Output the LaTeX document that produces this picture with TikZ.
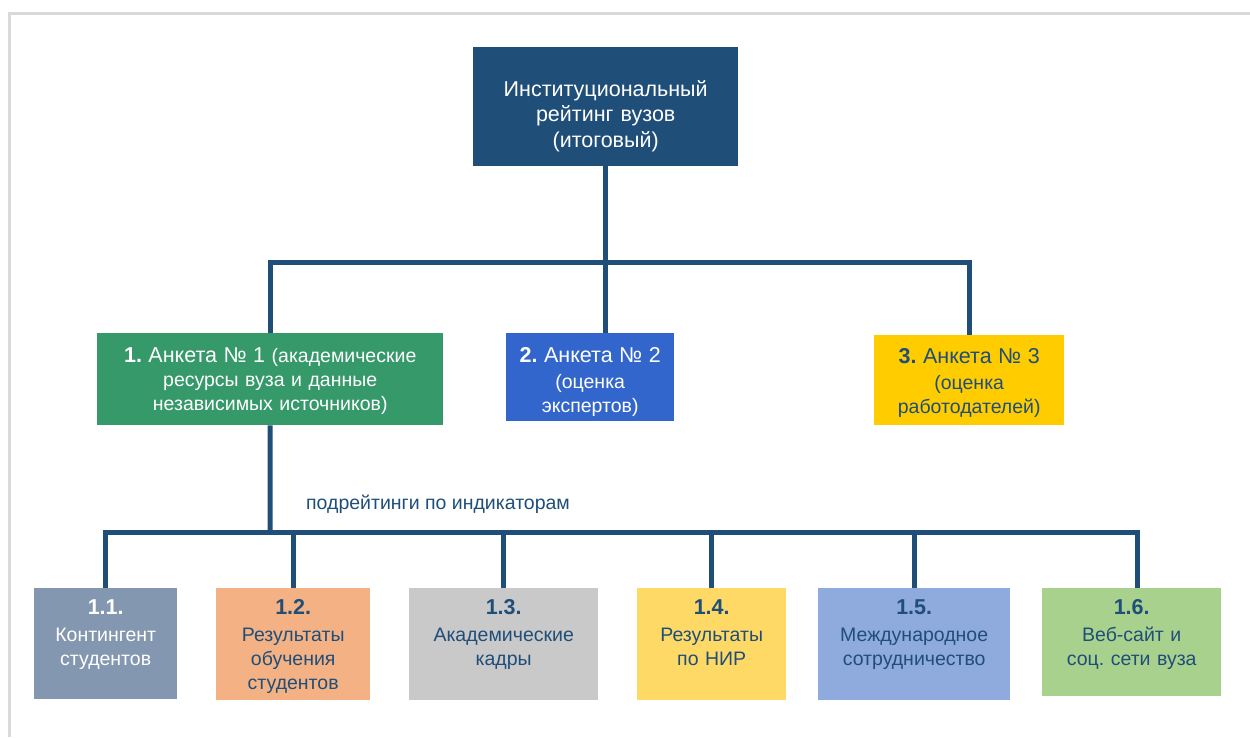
\documentclass[tikz,border=0pt]{standalone}
\usepackage{fontspec}
\setmainfont{Liberation Sans}
\frenchspacing
\definecolor{navy}{HTML}{1F4E79}
\definecolor{lineblue}{HTML}{1F4E79}
\definecolor{cTop}{HTML}{1F4E79}
\definecolor{cOne}{HTML}{35996A}
\definecolor{cTwo}{HTML}{3366CC}
\definecolor{cThree}{HTML}{FFCC00}
\definecolor{cA}{HTML}{8497B0}
\definecolor{cB}{HTML}{F4B183}
\definecolor{cC}{HTML}{C9C9C9}
\definecolor{cD}{HTML}{FFD966}
\definecolor{cE}{HTML}{8FAADC}
\definecolor{cF}{HTML}{A9D18E}
\definecolor{frame}{HTML}{D9D9D9}
\newcommand{\bigtxt}[1]{{\fontsize{21.5}{24}\selectfont #1}}
\newcommand{\nrm}{\fontsize{19.5}{24}\selectfont}
\begin{document}
\begin{tikzpicture}[x=1pt,y=-1pt,
  box/.style={inner sep=0pt, anchor=north west, align=center, font=\nrm},
  leaf/.style={box, text height=26.5pt, text depth=85.5pt},
  conn/.style={draw=lineblue, line width=5pt},
  lbl/.style={inner sep=0pt, text=navy, font=\fontsize{19.5}{22}\selectfont}]
\useasboundingbox (0,0) rectangle (1250,737);
\draw[frame, line width=3pt] (9.5,737) -- (9.5,13.5) -- (1250,13.5);

\node[box, fill=cTop, text=white, text width=265pt, text height=49pt, text depth=70pt, font=\fontsize{21.5}{25.5}\selectfont] (top) at (473,47)
  {Институциональный\\рейтинг вузов\\(итоговый)};

\node[box, fill=cOne, text=white, text width=346pt, text height=29.5pt, text depth=62.5pt] (b1) at (97,333)
  {\bigtxt{\textbf{1.} Анкета № 1} (академические\\ресурсы вуза и данные\\независимых источников)};
\node[box, fill=cTwo, text=white, text width=168pt, text height=29.5pt, text depth=58.5pt] (b2) at (506,333)
  {\bigtxt{\textbf{2.} Анкета № 2}\\[2pt](оценка\\экспертов)};
\node[box, fill=cThree, text=navy, text width=190pt, text height=28.5pt, text depth=61.5pt] (b3) at (874,335)
  {\bigtxt{\textbf{3.} Анкета № 3}\\[2pt](оценка\\работодателей)};

\node[leaf, fill=cA, text=white, text width=143pt, text depth=84.5pt] (l1) at (34,588)
  {\bigtxt{\textbf{1.1.}}\\[3pt]Контингент\\студентов};
\node[leaf, fill=cB, text=navy, text width=154pt] (l2) at (216,588)
  {\bigtxt{\textbf{1.2.}}\\[3pt]Результаты\\обучения\\студентов};
\node[leaf, fill=cC, text=navy, text width=189pt] (l3) at (409,588)
  {\bigtxt{\textbf{1.3.}}\\[3pt]Академические\\кадры};
\node[leaf, fill=cD, text=navy, text width=149pt] (l4) at (637,588)
  {\bigtxt{\textbf{1.4.}}\\[3pt]Результаты\\по НИР};
\node[leaf, fill=cE, text=navy, text width=192pt] (l5) at (818,588)
  {\bigtxt{\textbf{1.5.}}\\[3pt]Международное\\сотрудничество};
\node[leaf, fill=cF, text=navy, text width=179pt, text depth=81.5pt] (l6) at (1042,588)
  {\bigtxt{\textbf{1.6.}}\\[3pt]Веб-сайт и\\соц. сети вуза};

\node[lbl] (lab) at (438,504) {подрейтинги по индикаторам};

\coordinate (busA) at (605,262);
\coordinate (busB) at (270,532);
\draw[conn] (top.south) -- (top.south |- b2.north);
\draw[conn] (b1.north) |- (b3.north |- busA) -- (b3.north);
\draw[conn] (b1.south) -- (busB);
\draw[conn] (l1.north) |- ([xshift=6pt]l6.north |- busB) -- ([xshift=6pt]l6.north);
\foreach \n in {l2,l3,l4,l5} \draw[conn] (\n.north) -- (\n.north |- busB);
\end{tikzpicture}
\end{document}
